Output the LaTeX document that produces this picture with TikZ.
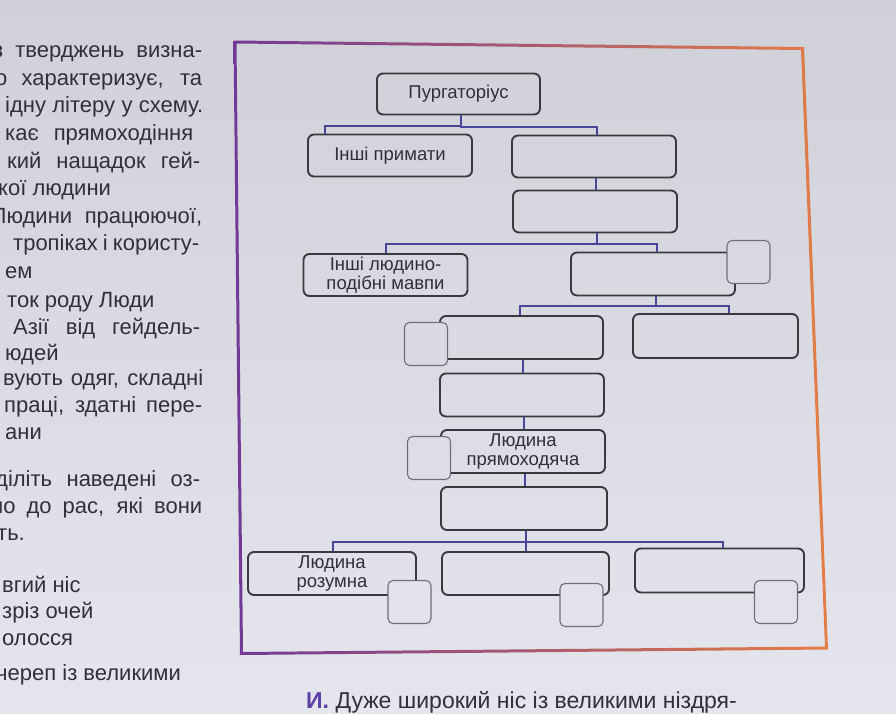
\documentclass[tikz,border=0pt]{standalone}
\usepackage{fontspec}
\setmainfont{Liberation Sans}
\usetikzlibrary{calc}
\definecolor{pagetop}{RGB}{208,209,216}
\definecolor{pagebot}{RGB}{229,230,237}
\definecolor{boxline}{RGB}{58,58,62}
\definecolor{sqline}{RGB}{110,110,126}
\definecolor{conncol}{RGB}{72,70,150}
\definecolor{txtcol}{RGB}{48,48,54}
\definecolor{fpurple}{RGB}{112,58,150}
\definecolor{fpink}{RGB}{205,85,145}
\definecolor{forange}{RGB}{228,125,70}
\definecolor{capviolet}{RGB}{92,62,165}
\tikzset{
  stagebox/.style={draw=boxline, line width=1.9pt, rounded corners=6pt, inner sep=0pt,
    text=txtcol, font=\fontsize{18.5}{19.5}\selectfont, align=center},
  answerbox/.style={draw=sqline, line width=1.1pt, rounded corners=5pt, inner sep=0pt,
    minimum width=43pt, minimum height=43pt},
  conn/.style={draw=conncol, line width=2pt},
  lefttext/.style={anchor=base west, inner sep=0pt, text=txtcol, font=\fontsize{22}{26}\selectfont},
}
\newcommand\jline[5]{\node[lefttext] (#1) at (#2,#3) {\makebox[#4pt][s]{#5}};}
\begin{document}
\begin{tikzpicture}[x=1pt,y=-1pt]
\useasboundingbox (0,0) rectangle (896,713);
\clip (0,0) rectangle (896,713);
\shade[top color=pagetop, bottom color=pagebot] (0,0) rectangle (896,713);

% frame
\shade[left color=fpurple, middle color=fpink, right color=forange, even odd rule]
  (233.5,40.5) -- (804,47) -- (828,649.5) -- (240,655) -- cycle
  (236.5,43.5) -- (801,50) -- (825,646.5) -- (243,652) -- cycle;

% left column text
\jline{t1}{-7}{57}{209}{з тверджень визна-}
\jline{t2}{-5}{85}{207}{о характеризує, та}
\jline{t3}{5}{112}{198}{ідну літеру у схему.}
\jline{t4}{5}{140}{188}{кає прямоходіння}
\jline{t5}{7}{168}{193}{кий нащадок гей-}
\node[lefttext] (t6) at (-2,195) {кої людини};
\jline{t7}{-8}{223}{210}{Людини працюючої,}
\jline{t8}{13}{250}{186}{тропіках і користу-}
\node[lefttext] (t9) at (5,278) {ем};
\node[lefttext] (t10) at (7,307) {ток роду Люди};
\jline{t11}{13}{334}{187}{Азії від гейдель-}
\node[lefttext] (t12) at (5,360) {юдей};
\jline{t13}{3}{385}{200}{вують одяг, складні}
\jline{t14}{4}{412}{198}{праці, здатні пере-}
\node[lefttext] (t15) at (5,439) {ани};
\jline{t16}{-5}{486}{205}{діліть наведені оз-}
\jline{t17}{-9}{513}{211}{но до рас, які вони}
\node[lefttext] (t18) at (-3,540) {ть.};
\node[lefttext] (t19) at (2,592) {вгий ніс};
\node[lefttext] (t20) at (2,618) {зріз очей};
\node[lefttext] (t21) at (2,645) {олосся};
\node[lefttext] (t22) at (-4,680) {череп із великими};

% caption
\node[anchor=base west, inner sep=0pt, text=txtcol, font=\fontsize{23}{26}\selectfont] (cap) at (306,708)
  {\textcolor{capviolet}{\textbf{И.}} Дуже широкий ніс із великими ніздря-};

% diagram boxes
\node[stagebox, minimum width=163pt, minimum height=41pt] (pur) at (458.5,94) {Пургаторіус};
\node[stagebox, minimum width=164pt, minimum height=42pt] (inp) at (390,155.5) {Інші примати};
\node[stagebox, minimum width=164pt, minimum height=42pt] (r1) at (594,156.5) {};
\node[stagebox, minimum width=164pt, minimum height=42pt] (r2) at (595,211.5) {};
\node[stagebox, minimum width=164pt, minimum height=42pt] (ilm) at (385.5,275) {Інші людино-\\подібні мавпи};
\node[stagebox, minimum width=164pt, minimum height=43pt] (r3) at (653,274) {};
\node[stagebox, minimum width=163pt, minimum height=43pt] (r4) at (521.5,337.5) {};
\node[stagebox, minimum width=165pt, minimum height=44pt] (r5) at (715.5,336) {};
\node[stagebox, minimum width=164pt, minimum height=43pt] (r6) at (522,395) {};
\node[stagebox, minimum width=164pt, minimum height=43pt] (lp) at (523,451.5) {Людина\\прямоходяча};
\node[stagebox, minimum width=166pt, minimum height=43pt] (r8) at (524,508.5) {};
\node[stagebox, minimum width=168pt, minimum height=43pt] (lr) at (332,573.5) {Людина\\розумна};
\node[stagebox, minimum width=167pt, minimum height=43pt] (r10) at (525.5,573.5) {};
\node[stagebox, minimum width=169pt, minimum height=44pt] (r11) at (719.5,570.5) {};

% answer squares
\node[answerbox, fill=pagebot!37!pagetop] (s3) at (748.5,262) {};
\node[answerbox, fill=pagebot!48!pagetop] (s4) at (426,344) {};
\node[answerbox, fill=pagebot!64!pagetop] (s7) at (429,458) {};
\node[answerbox, fill=pagebot!85!pagetop] (s9) at (409.5,602) {};
\node[answerbox, fill=pagebot!85!pagetop] (s10) at (581.5,605) {};
\node[answerbox, fill=pagebot!85!pagetop] (s11) at (776,602) {};

% connectors
\draw[conn] ($(pur.south)+(2.5,0)$) |- ($(inp.north west)+(18,-8)$) -- ($(inp.north west)+(18,0)$);
\draw[conn] ($(pur.south)+(2.5,0)$) |- ($(r1.north)+(3,-8)$) -- ($(r1.north)+(3,0)$);
\draw[conn] ($(r1.south)+(2,0)$) -- ($(r2.north)+(1,0)$);
\draw[conn] ($(r2.south)+(2,0)$) |- ($(ilm.north)+(0,-9)$) -- (ilm.north);
\draw[conn] ($(r2.south)+(2,0)$) |- ($(r3.north)+(4,-8)$) -- ($(r3.north)+(4,0)$);
\draw[conn] ($(r3.south)+(3,0)$) |- ($(r4.north)+(-1.5,-9)$) -- ($(r4.north)+(-1.5,0)$);
\draw[conn] ($(r3.south)+(3,0)$) |- ($(r5.north)+(13.5,-7)$) -- ($(r5.north)+(13.5,0)$);
\draw[conn] ($(r4.south)+(1.5,0)$) -- ($(r6.north)+(1,0)$);
\draw[conn] ($(r6.south)+(2,0)$) -- ($(lp.north)+(1,0)$);
\draw[conn] ($(lp.south)+(2,0)$) -- ($(r8.north)+(1,0)$);
\draw[conn] ($(r8.south)+(2,0)$) |- ($(lr.north)+(1,-9)$) -- ($(lr.north)+(1,0)$);
\draw[conn] ($(r8.south)+(2,0)$) -- ($(r10.north)+(0.5,0)$);
\draw[conn] ($(r8.south)+(2,0)$) |- ($(r11.north)+(3.5,-6)$) -- ($(r11.north)+(3.5,0)$);
\end{tikzpicture}
\end{document}
